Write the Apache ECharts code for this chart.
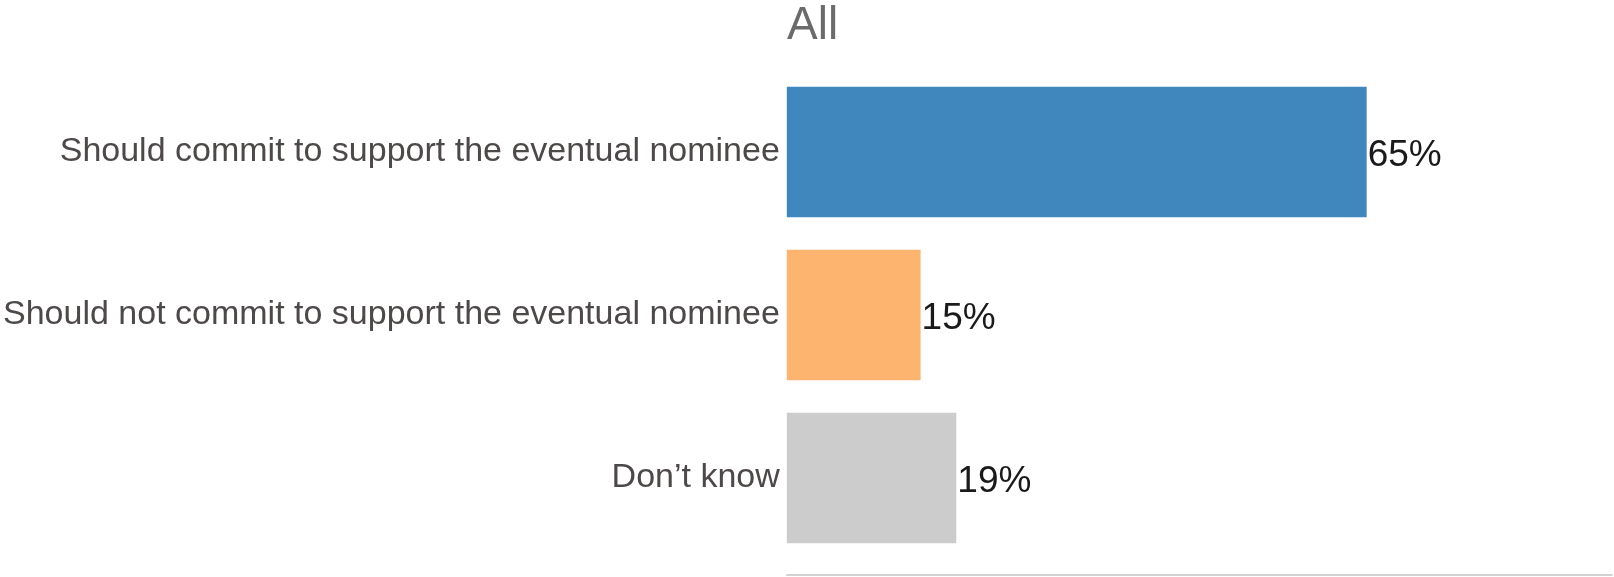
<!DOCTYPE html>
<html>
<head>
<meta charset="utf-8">
<script src="https://cdn.jsdelivr.net/npm/echarts@6/dist/echarts.min.js"></script>
<style>
html,body{margin:0;padding:0;background:#fff;}
#chart{width:1614px;height:577px;}
</style>
</head>
<body>
<div id="chart"></div>
<script>
var categories = ["Should commit to support the eventual nominee", "Should not commit to support the eventual nominee", "Don\u2019t know"];
var values = [65, 15, 19];
var barColors = ["#4087bd", "#fdb46f", "#cccccc"];
var titleText = "All";

var chart = echarts.init(document.getElementById('chart'), null, {renderer: 'canvas'});
var font = '"Liberation Sans", Arial, sans-serif';
chart.setOption({
  animation: false,
  backgroundColor: '#ffffff',
  title: {
    text: titleText,
    left: 782,
    top: -2,
    textStyle: {fontFamily: font, fontSize: 46, fontWeight: 'normal', color: '#6b6b6b'}
  },
  grid: {left: 786, right: 2, top: 70.5, bottom: 17.5, containLabel: false},
  xAxis: {
    type: 'value', min: 0, max: 92.5,
    axisLine: {show: true, onZero: false, lineStyle: {color: '#c6c2c2', width: 1.5}},
    offset: 15,
    axisTick: {show: false}, axisLabel: {show: false}, splitLine: {show: false}
  },
  yAxis: {
    type: 'category', inverse: true, data: categories,
    axisLine: {show: false}, axisTick: {show: false},
    axisLabel: {margin: 7, fontFamily: font, fontSize: 34, color: '#4d4949', padding: [4, 0, 0, 0]}
  },
  series: [{
    type: 'bar',
    barCategoryGap: '20%',
    data: values.map(function(v, i){ return {value: v, itemStyle: {color: barColors[i]}}; }),
    label: {
      show: true, position: 'right', distance: 1,
      formatter: function(p){ return p.value + '%'; },
      fontFamily: font, fontSize: 37, color: '#1a1a1a', offset: [0, 4]
    }
  }]
});
</script>
</body>
</html>
